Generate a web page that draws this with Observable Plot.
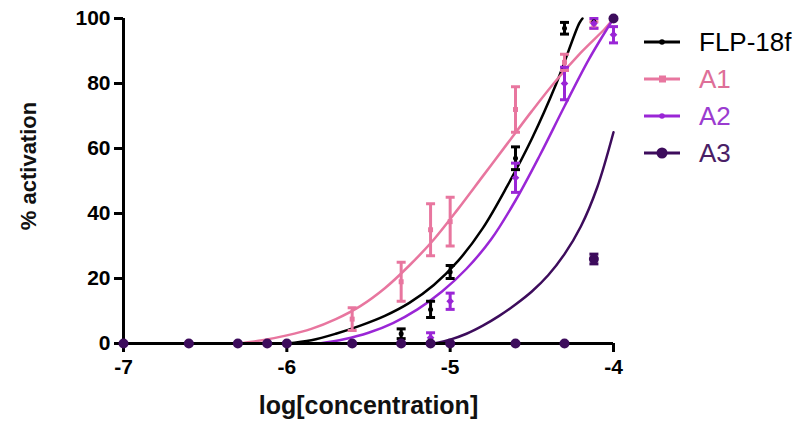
<!DOCTYPE html>
<html>
<head>
<meta charset="utf-8">
<script src="https://cdn.jsdelivr.net/npm/d3@7"></script>
<script src="https://cdn.jsdelivr.net/npm/@observablehq/plot@0.6"></script>
<style>
  html, body { margin: 0; padding: 0; background: #fff; }
  #wrap { position: relative; width: 799px; height: 425px; font-family: "Liberation Sans", Arial, sans-serif; }
  #legend { position: absolute; left: 0; top: 0; pointer-events: none; }
</style>
</head>
<body>
<div id="wrap"></div>
<script>
// ---- data ----
const seriesNames = ["FLP-18f", "A1", "A2", "A3"];
const logConc = [-7, -6.6, -6.3, -6.12, -6, -5.6, -5.3, -5.12, -5, -4.6, -4.3, -4.12, -4];

const flpMean = [0, 0, 0, 0, 0, 0, 3, 10.5, 22, 57, 97, 99, 100];
const flpErr  = [0, 0, 0, 0, 0, 0, 1.5, 2.5, 2, 3.5, 1.8, 0, 0];
const a1Mean  = [0, 0, 0, 0, 0, 7.5, 19, 35, 37.5, 72, 86.5, 98, 100];
const a1Err   = [0, 0, 0, 0, 0, 3.5, 6, 8, 7.5, 7, 2.5, 1, 0];
const a2Mean  = [0, 0, 0, 0, 0, 0, 0, 1.8, 13, 51, 80, 98.5, 95];
const a2Err   = [0, 0, 0, 0, 0, 0, 0, 1.5, 2.5, 4.5, 5, 1.5, 2.5];
const a3Mean  = [0, 0, 0, 0, 0, 0, 0, 0, 0, 0, 0, 26, 100];
const a3Err   = [0, 0, 0, 0, 0, 0, 0, 0, 0, 0, 0, 1.5, 0];

// fitted curves
const flpCurveX = [-6, -5.85, -5.7, -5.55, -5.4, -5.25, -5.1, -4.95, -4.8, -4.65, -4.5, -4.35, -4.21, -4.19];
const flpCurveY = [0, 1, 3, 5.5, 8.5, 12.5, 18, 25.5, 35.5, 48.5, 63, 80, 98.5, 100];
const a1CurveX  = [-6.3, -6.15, -6, -5.85, -5.7, -5.55, -5.4, -5.25, -5.1, -4.95, -4.8, -4.65, -4.5, -4.35, -4.2, -4.05, -4];
const a1CurveY  = [0, 1, 2.5, 4.5, 7.5, 11.5, 17, 24, 32, 41.5, 51.5, 61.5, 71.5, 81, 89.5, 97, 100];
const a2CurveX  = [-5.8, -5.65, -5.5, -5.35, -5.2, -5.05, -4.9, -4.75, -4.6, -4.45, -4.3, -4.15, -4];
const a2CurveY  = [0, 1.3, 3.3, 6.3, 10.5, 16, 23, 32, 44, 58, 73, 87.5, 100];
const a3CurveX  = [-5.1, -5, -4.9, -4.8, -4.7, -4.6, -4.5, -4.4, -4.3, -4.2, -4.1, -4];
const a3CurveY  = [0, 1.2, 3, 5.5, 8.5, 12, 16, 21, 27.5, 36, 48, 65];

// ---- styles ----
const colors = {"FLP-18f": "#000000", "A1": "#e8769f", "A2": "#9a26d6", "A3": "#3d0c5c"};
const textColors = {"FLP-18f": "#000000", "A1": "#de6f98", "A2": "#9b3bd0", "A3": "#4a1e66"};

const means = {"FLP-18f": flpMean, "A1": a1Mean, "A2": a2Mean, "A3": a3Mean};
const errs  = {"FLP-18f": flpErr, "A1": a1Err, "A2": a2Err, "A3": a3Err};
const curvesX = {"FLP-18f": flpCurveX, "A1": a1CurveX, "A2": a2CurveX, "A3": a3CurveX};
const curvesY = {"FLP-18f": flpCurveY, "A1": a1CurveY, "A2": a2CurveY, "A3": a3CurveY};

const points = [];
const curveRows = [];
for (const s of seriesNames) {
  means[s].forEach((m, i) => {
    if (m == null) return;
    const e = errs[s][i] || 0;
    points.push({series: s, x: logConc[i], y: m, lo: Math.max(0, m - e), hi: Math.min(100, m + e), err: e});
  });
  curvesX[s].forEach((x, i) => curveRows.push({series: s, x, y: curvesY[s][i]}));
}
const errPts = points.filter(d => d.err > 0);

const capSymbol = {
  draw(ctx, size) {
    const r = Math.sqrt(size / Math.PI);
    ctx.moveTo(-r, 0);
    ctx.lineTo(r, 0);
  }
};

const font = '"Liberation Sans", Arial, sans-serif';

const chart = Plot.plot({
  width: 799,
  height: 425,
  marginLeft: 123,
  marginRight: 186,
  marginTop: 18,
  marginBottom: 82,
  style: {fontFamily: font, background: "white", overflow: "visible"},
  x: {domain: [-7, -4]},
  y: {domain: [0, 100]},
  color: {domain: seriesNames, range: seriesNames.map(s => colors[s])},
  marks: [
    Plot.axisY({ticks: [0, 20, 40, 60, 80, 100], tickSize: 9, tickPadding: 4, fontSize: 21, fontWeight: "bold", label: null, strokeWidth: 3, tickFormat: d => String(d)}),
    Plot.axisX({ticks: [-7, -6, -5, -4], tickSize: 9, tickPadding: 7, fontSize: 21, fontWeight: "bold", label: null, strokeWidth: 3, tickFormat: d => String(d)}),
    Plot.text(["log[concentration]"], {frameAnchor: "bottom", dy: 70, fontSize: 25, fontWeight: "bold", fill: "#111"}),
    Plot.text(["% activation"], {frameAnchor: "left", textAnchor: "middle", dx: -95, dy: -15, rotate: -90, fontSize: 22, fontWeight: "bold", fill: "#111"}),
    Plot.line(curveRows, {x: "x", y: "y", z: "series", stroke: "series", curve: "catmull-rom", strokeWidth: 2.5}),
    Plot.ruleY([0], {stroke: "black", strokeWidth: 3}),
    Plot.ruleX([-7], {stroke: "black", strokeWidth: 3}),
    Plot.ruleX(errPts, {x: "x", y1: "lo", y2: "hi", stroke: "series", strokeWidth: 3}),
    Plot.dot(errPts, {x: "x", y: "hi", symbol: capSymbol, r: 4.5, fill: "none", stroke: "series", strokeWidth: 3}),
    Plot.dot(errPts, {x: "x", y: "lo", symbol: capSymbol, r: 4.5, fill: "none", stroke: "series", strokeWidth: 3}),
    Plot.dot(points.filter(d => d.series === "FLP-18f"), {x: "x", y: "y", r: 2.5, fill: "series"}),
    Plot.dot(points.filter(d => d.series === "A1"), {x: "x", y: "y", r: 2.8, symbol: "square", fill: "series"}),
    Plot.dot(points.filter(d => d.series === "A2"), {x: "x", y: "y", r: 2.5, symbol: "diamond2", fill: "series", stroke: "series"}),
    Plot.dot(points.filter(d => d.series === "A3"), {x: "x", y: "y", r: 5, fill: "series"})
  ]
});

const wrap = document.getElementById("wrap");
wrap.appendChild(chart);

// ---- legend ----
const ns = "http://www.w3.org/2000/svg";
const leg = document.createElementNS(ns, "svg");
leg.setAttribute("id", "legend");
leg.setAttribute("width", 799);
leg.setAttribute("height", 425);
const legY0 = 42, legStep = 37;
seriesNames.forEach((s, i) => {
  const y = legY0 + i * legStep;
  const line = document.createElementNS(ns, "line");
  line.setAttribute("x1", 644); line.setAttribute("x2", 680);
  line.setAttribute("y1", y); line.setAttribute("y2", y);
  line.setAttribute("stroke", colors[s]); line.setAttribute("stroke-width", 3);
  leg.appendChild(line);
  let m;
  if (s === "A1") {
    m = document.createElementNS(ns, "rect");
    m.setAttribute("x", 659); m.setAttribute("y", y - 3.5); m.setAttribute("width", 7); m.setAttribute("height", 7);
  } else {
    m = document.createElementNS(ns, "circle");
    m.setAttribute("cx", 662); m.setAttribute("cy", y);
    m.setAttribute("r", s === "A3" ? 5.5 : 2.8);
  }
  m.setAttribute("fill", colors[s]);
  leg.appendChild(m);
  const t = document.createElementNS(ns, "text");
  t.setAttribute("x", 699); t.setAttribute("y", y);
  t.setAttribute("dy", "0.35em");
  t.setAttribute("font-family", font);
  t.setAttribute("font-size", 26);
  t.setAttribute("fill", textColors[s]);
  t.textContent = s;
  leg.appendChild(t);
});
wrap.appendChild(leg);
</script>
</body>
</html>
